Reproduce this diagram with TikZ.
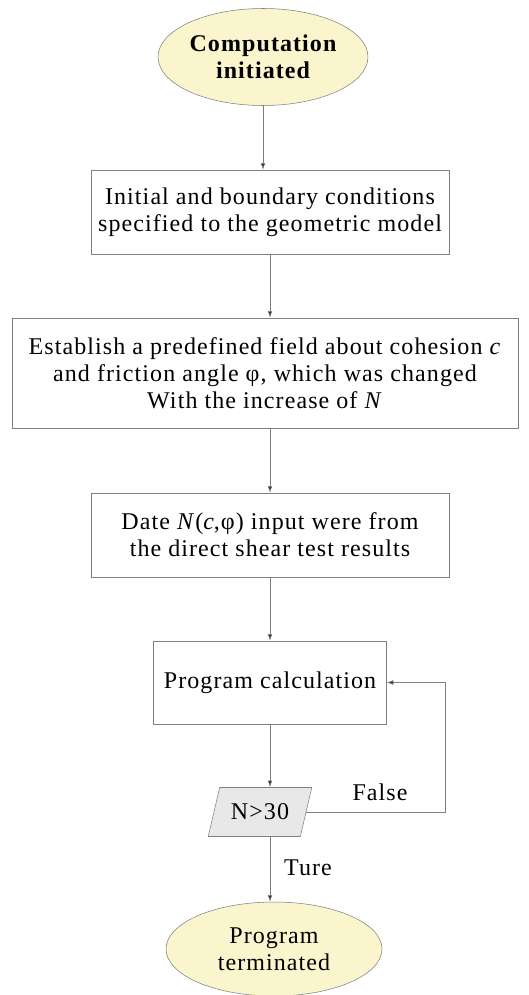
\documentclass[tikz,border=0pt]{standalone}
\usepackage{fontspec}
\setmainfont{Liberation Serif}[LetterSpace=4.5]
\usepackage{tikz}
\usetikzlibrary{arrows.meta, positioning, calc, shapes.geometric}
\definecolor{termfill}{HTML}{FAF5CC}
\definecolor{decfill}{HTML}{E8E8E8}
\definecolor{linegray}{HTML}{7F7F7F}

\tikzset{
  terminal/.style={draw=linegray, ellipse, fill=termfill, align=center,
                   inner sep=0pt},
  procbox/.style={draw=linegray, rectangle, align=center, inner sep=0pt},
  decision/.style={draw=linegray, trapezium, trapezium left angle=63,
                   trapezium right angle=117, fill=decfill, inner sep=0pt,
                   trapezium stretches=true},
  flow/.style={draw=linegray, -{Latex[length=5pt,width=3.5pt,fill=black!80]}},
}

\begin{document}
\begin{tikzpicture}[x=0.75pt, y=-0.75pt,
    font=\fontsize{18}{20.25}\selectfont]
  \useasboundingbox (0,0) rectangle (528,995);

  \node[terminal, minimum width=157.5pt, minimum height=72.75pt,
        font=\fontsize{18}{20.25}\selectfont\bfseries]
    (start) at (263,57) {Computation\\initiated};
  \node[procbox, minimum width=268.5pt, minimum height=63pt]
    (init) at (270,212) {Initial and boundary conditions\\specified to the geometric model};
  \node[procbox, minimum width=379.5pt, minimum height=82.5pt]
    (field) at (265,373) {Establish a predefined field about cohesion \textit{c}\\
      and friction angle φ, which was changed\\With the increase of \textit{N}};
  \node[procbox, minimum width=268.5pt, minimum height=63pt]
    (data) at (270,535) {Date \textit{N}(\textit{c},φ) input were from\\
      the direct shear test results};
  \node[procbox, minimum width=174.75pt, minimum height=62.25pt]
    (calc) at (270,682.5) {Program calculation};
  \node[decision, minimum width=78pt, minimum height=36.75pt]
    (check) at (260,812) {N\textgreater30};
  \node[terminal, minimum width=162pt, minimum height=70.5pt]
    (stop) at (274,949) {Program\\terminated};

  \coordinate (axis) at (270,0);
  \coordinate (loop) at (445,0);

  \draw[flow] (start.south) -- (start.south |- init.north);
  \draw[flow] (init.south -| axis) -- (field.north -| axis);
  \draw[flow] (field.south -| axis) -- (data.north -| axis);
  \draw[flow] (data.south -| axis) -- (calc.north -| axis);
  \draw[flow] (calc.south -| axis) -- (check.north -| axis);
  \draw[flow] (check.east) -- (check.east -| loop) -- (calc.east -| loop)
    -- (calc.east);
  \draw[flow] (check.south -| axis) -- (stop.north -| axis);

  \node (falselbl) at (380,792) {False};
  \node (turelbl) at (308,868) {Ture};
\end{tikzpicture}
\end{document}
